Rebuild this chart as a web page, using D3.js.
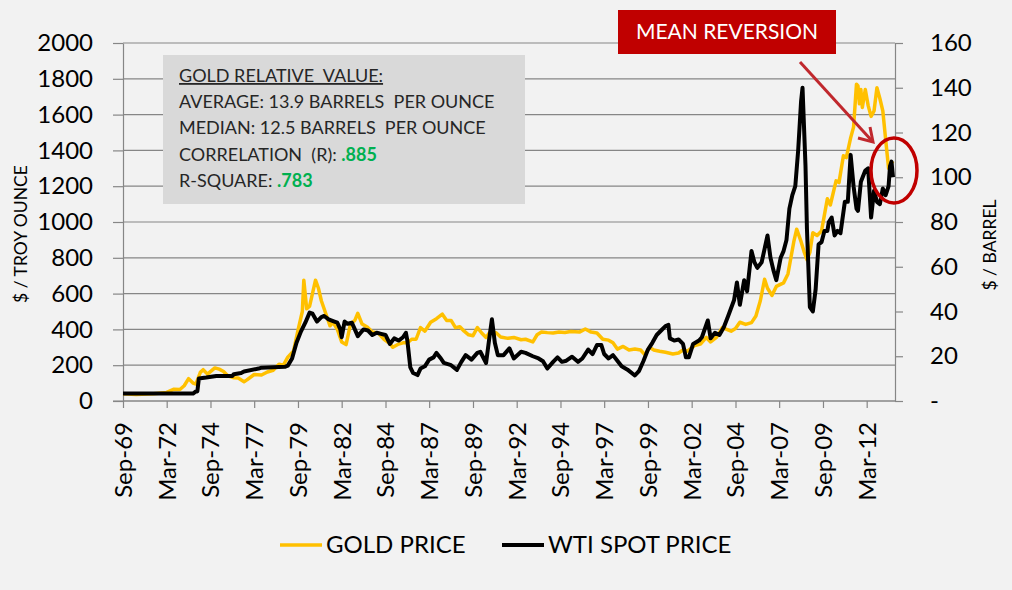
<!DOCTYPE html>
<html><head><meta charset="utf-8">
<script src="https://cdn.jsdelivr.net/npm/d3@7"></script>
<style>
html,body{margin:0;padding:0;background:#f2f2f2;}
svg{display:block;font-family:Lato,"Open Sans",sans-serif;}
</style></head>
<body>
<svg id="chart" width="1012" height="590"></svg>
<script>
// ---- data ----
const xTickLabels = ["Sep-69","Mar-72","Sep-74","Mar-77","Sep-79","Mar-82","Sep-84","Mar-87","Sep-89","Mar-92","Sep-94","Mar-97","Sep-99","Mar-02","Sep-04","Mar-07","Sep-09","Mar-12"];
const goldTicks = [0,200,400,600,800,1000,1200,1400,1600,1800,2000];
const oilTicks = [0,20,40,60,80,100,120,140,160];

const goldDates = ["1969-09","1970-06","1971-06","1972-03","1972-08","1972-12","1973-03","1973-06","1973-09","1973-11","1974-02","1974-04","1974-07","1974-12","1975-03","1975-06","1975-09","1976-01","1976-04","1976-08","1976-10","1977-03","1977-08","1977-12","1978-04","1978-08","1978-11","1979-02","1979-06","1979-09","1979-12","1980-01","1980-03","1980-05","1980-09","1980-11","1981-01","1981-04","1981-07","1981-09","1981-12","1982-03","1982-06","1982-09","1982-12","1983-02","1983-05","1983-09","1983-12","1984-04","1984-08","1984-12","1985-02","1985-06","1985-09","1985-12","1986-03","1986-06","1986-09","1986-12","1987-04","1987-08","1987-12","1988-03","1988-06","1988-09","1988-12","1989-03","1989-06","1989-09","1989-12","1990-03","1990-06","1990-09","1991-01","1991-04","1991-09","1992-01","1992-06","1992-09","1993-02","1993-05","1993-08","1993-12","1994-04","1994-08","1994-12","1995-04","1995-10","1996-02","1996-06","1996-10","1997-02","1997-06","1997-09","1997-12","1998-04","1998-08","1998-12","1999-04","1999-07","1999-10","2000-01","2000-05","2000-09","2001-02","2001-06","2001-09","2001-12","2002-05","2002-09","2003-01","2003-04","2003-08","2003-12","2004-03","2004-06","2004-09","2004-12","2005-04","2005-08","2005-11","2006-02","2006-05","2006-07","2006-10","2007-01","2007-06","2007-09","2007-11","2008-01","2008-03","2008-06","2008-08","2008-10","2008-12","2009-02","2009-05","2009-08","2009-10","2009-12","2010-02","2010-06","2010-08","2010-11","2011-01","2011-04","2011-06","2011-08","2011-09","2011-10","2011-11","2011-12","2012-02","2012-04","2012-06","2012-08","2012-10","2012-12","2013-02","2013-04","2013-06","2013-07","2013-08","2013-09"];
const goldValues = [40,36,40,48,66,64,85,125,100,95,160,175,150,185,178,165,140,130,128,108,118,148,145,162,172,205,200,245,280,395,500,675,515,530,675,630,560,490,420,440,400,330,315,430,450,490,430,410,385,380,345,320,300,318,325,325,345,345,410,390,440,460,485,450,450,410,415,390,370,365,410,380,355,390,380,358,350,355,342,345,330,370,385,382,380,385,383,388,385,402,385,380,345,340,325,290,305,285,290,285,258,300,285,278,272,263,268,285,278,310,318,355,330,355,410,400,390,405,440,428,438,475,560,680,630,590,640,660,710,800,890,960,890,835,790,830,940,925,950,1040,1130,1095,1230,1220,1370,1360,1470,1530,1770,1760,1660,1740,1640,1740,1650,1590,1620,1750,1690,1620,1460,1300,1320,1330,1340];

const oilDates = ["1969-09","1973-09","1973-11","1973-12","1974-01","1974-06","1975-01","1975-12","1976-01","1976-06","1976-08","1977-06","1977-08","1978-12","1979-02","1979-05","1979-08","1979-11","1980-02","1980-05","1980-07","1980-10","1981-01","1981-03","1981-06","1981-10","1981-12","1982-02","1982-03","1982-05","1982-07","1982-10","1982-12","1983-02","1983-04","1983-06","1983-09","1983-12","1984-03","1984-06","1984-09","1984-12","1985-03","1985-06","1985-09","1985-11","1985-12","1986-02","1986-04","1986-07","1986-09","1986-12","1987-03","1987-06","1987-08","1987-11","1988-01","1988-06","1988-10","1989-01","1989-04","1989-08","1989-12","1990-02","1990-06","1990-08","1990-10","1990-12","1991-02","1991-06","1991-10","1992-01","1992-06","1992-09","1993-02","1993-06","1993-09","1993-12","1994-04","1994-07","1994-10","1995-01","1995-05","1995-09","1995-12","1996-04","1996-07","1996-10","1997-01","1997-03","1997-06","1997-09","1997-12","1998-03","1998-07","1998-12","1999-03","1999-06","1999-09","1999-12","2000-03","2000-06","2000-09","2000-11","2000-12","2001-03","2001-06","2001-09","2001-11","2002-01","2002-04","2002-08","2002-10","2003-02","2003-04","2003-07","2003-10","2004-01","2004-04","2004-08","2004-10","2004-12","2005-03","2005-05","2005-08","2005-10","2005-12","2006-03","2006-07","2006-09","2006-11","2007-01","2007-04","2007-06","2007-08","2007-10","2007-12","2008-02","2008-04","2008-06","2008-07","2008-09","2008-10","2008-12","2009-02","2009-04","2009-06","2009-08","2009-10","2009-12","2010-01","2010-03","2010-05","2010-07","2010-09","2010-12","2011-02","2011-04","2011-06","2011-08","2011-09","2011-11","2012-02","2012-04","2012-06","2012-08","2012-10","2012-12","2013-02","2013-04","2013-06","2013-07","2013-08","2013-09"];
const oilValues = [3.3,3.3,4.3,4.3,10.1,10.5,11.2,11.2,12.0,12.5,13.2,14.5,14.9,15.3,15.8,19,26,31,35,39.5,39,35.5,37.5,38,36.5,35.5,35,32,28.5,35.5,34.5,35,32,29,30.5,32,31.5,29.5,30.5,30,29.5,25.5,28,27,28.5,30.5,27,15,12.5,11.6,14.5,15.5,18.5,19.5,21.5,19,17,16,13.9,17.5,20.5,18.5,21.5,22,17,27,36.5,26,20.5,20.5,23.5,19,22,21.5,20,19,17.8,14.5,17.5,19.5,17.5,18,19.8,17.5,19,23,21,25,25,21,19,20.5,18,15.5,14,11.4,13.5,18,23,26,29.5,31.5,33.5,34,28,27,27.5,25.5,19.5,19.5,25.5,27,28.5,36,28,30.5,29.5,33,38,45,53,43,54,49,67,62,59.5,62,74,64,58.5,54,64,67,72,86,92,96,112,134,140,105,77,42,40,50,70,71,76,76,80,82,74,76,75,89,89,110,96,86,85,98,103,104,82,94,89,88,95,92,96,105,107,100];

const seriesNames = ["GOLD PRICE","WTI SPOT PRICE"];
const boxLines = ["GOLD RELATIVE  VALUE:","AVERAGE: 13.9 BARRELS  PER OUNCE","MEDIAN: 12.5 BARRELS  PER OUNCE","CORRELATION  (R): ","R-SQUARE: "];
const boxValues = ["", "", "", ".885", ".783"];

// ---- drawing ----
const svg = d3.select("#chart");
const parseM = d3.utcParse("%Y-%m");
const parseTick = d3.utcParse("%b-%y");
const X0 = 123, X1 = 895, Y0 = 401, Y1 = 43;

const x = d3.scaleUtc().domain([parseM("1969-09"), new Date(Date.UTC(2013,9,13))]).range([X0, X1]);
const yL = d3.scaleLinear().domain([0,2000]).range([Y0, Y1]);
const yR = d3.scaleLinear().domain([0,160]).range([Y0, Y1]);

const gridColor = "#868686";
// gridlines
svg.append("g").selectAll("line").data(goldTicks).join("line")
  .attr("x1", X0).attr("x2", X1)
  .attr("y1", d => yL(d)).attr("y2", d => yL(d))
  .attr("stroke", gridColor).attr("stroke-width", 1.2);

// left axis
const gL = svg.append("g").attr("transform", `translate(${X0},0)`)
  .call(d3.axisLeft(yL).tickValues(goldTicks).tickSize(10).tickSizeOuter(0).tickPadding(20)
    .tickFormat(d3.format("d")));
gL.selectAll("text").attr("font-size", 24).attr("fill", "#000").attr("font-family","Lato");

// right axis
const gR = svg.append("g").attr("transform", `translate(${X1},0)`)
  .call(d3.axisRight(yR).tickValues(oilTicks).tickSize(8).tickSizeOuter(0).tickPadding(27)
    .tickFormat(d => d === 0 ? "-" : d));
gR.selectAll("text").attr("font-size", 24).attr("fill", "#000").attr("font-family","Lato");

// bottom axis
const xTicks = xTickLabels.map(parseTick);
const gB = svg.append("g").attr("transform", `translate(0,${Y0})`)
  .call(d3.axisBottom(x).tickValues(xTicks).tickSize(7).tickSizeOuter(0)
    .tickFormat(d3.utcFormat("%b-%y")));
gB.select(".domain").attr("d", `M${X0-10},0H${X1}`);
gB.selectAll("text").attr("font-size", 24).attr("fill", "#000").attr("font-family","Lato")
  .attr("transform", "rotate(-90)").attr("x", -21).attr("y", 0).attr("dy", "0.35em")
  .attr("text-anchor", "end");

[gL, gR, gB].forEach(g => {
  g.selectAll("line").attr("stroke", gridColor).attr("stroke-width", 1.2);
  g.select(".domain").attr("stroke", gridColor).attr("stroke-width", 1.2);
});

// lines
const goldData = goldDates.map((d, i) => ({date: parseM(d), v: goldValues[i]}));
const oilData = oilDates.map((d, i) => ({date: parseM(d), v: oilValues[i]}));

svg.append("path").datum(goldData)
  .attr("fill", "none").attr("stroke", "#ffc000").attr("stroke-width", 3.5)
  .attr("stroke-linejoin", "round")
  .attr("d", d3.line().x(d => x(d.date)).y(d => yL(d.v)));
svg.append("path").datum(oilData)
  .attr("fill", "none").attr("stroke", "#000").attr("stroke-width", 4)
  .attr("stroke-linejoin", "round")
  .attr("d", d3.line().x(d => x(d.date)).y(d => yR(d.v)));

// axis titles
svg.append("text").attr("transform", "translate(21,234) rotate(-90)")
  .attr("text-anchor", "middle").attr("font-size", 17.5).attr("fill", "#000").attr("dy","0.35em")
  .text("$ / TROY OUNCE");
svg.append("text").attr("transform", "translate(990,245) rotate(-90)")
  .attr("text-anchor", "middle").attr("font-size", 17.5).attr("fill", "#000").attr("dy","0.35em")
  .text("$ / BARREL");

// annotation box
svg.append("rect").attr("x", 163).attr("y", 55).attr("width", 362).attr("height", 149)
  .attr("fill", "#d9d9d9");
const bt = svg.append("g").attr("font-size", 18).attr("fill", "#262626");
boxLines.forEach((t, i) => {
  const txt = bt.append("text").attr("x", 179).attr("y", 82 + i * 26.2).attr("xml:space","preserve");
  txt.append("tspan").text(t).attr("text-decoration", i === 0 ? "underline" : null);
  if (boxValues[i]) txt.append("tspan").text(boxValues[i]).attr("fill", "#00b050").attr("font-weight", "bold");
});

// legend
const leg = svg.append("g");
const legItems = [{x: 280, color: "#ffc000", w: 3.5}, {x: 502, color: "#000", w: 4}];
legItems.forEach((it, i) => {
  leg.append("line").attr("x1", it.x).attr("x2", it.x + 42).attr("y1", 545).attr("y2", 545)
    .attr("stroke", it.color).attr("stroke-width", it.w);
  leg.append("text").attr("x", it.x + 46).attr("y", 545).attr("dy", "0.35em")
    .attr("font-size", 24).attr("fill", "#000").text(seriesNames[i]);
});

// mean reversion callout
svg.append("rect").attr("x", 618).attr("y", 10).attr("width", 218).attr("height", 44).attr("fill", "#c00000");
svg.append("text").attr("x", 727).attr("y", 32).attr("dy", "0.35em").attr("text-anchor", "middle")
  .attr("font-size", 21).attr("fill", "#fff").text("MEAN REVERSION");
const red = "#c0282d";
svg.append("line").attr("x1", 800).attr("y1", 62).attr("x2", 873).attr("y2", 142)
  .attr("stroke", red).attr("stroke-width", 3);
svg.append("path").attr("d", "M858,138L873,142L870,127").attr("fill", "none")
  .attr("stroke", red).attr("stroke-width", 3).attr("stroke-linejoin", "miter");
svg.append("ellipse").attr("cx", 894).attr("cy", 170.5).attr("rx", 23).attr("ry", 32.5)
  .attr("fill", "none").attr("stroke", "#c00000").attr("stroke-width", 3.5);
</script>
</body></html>
